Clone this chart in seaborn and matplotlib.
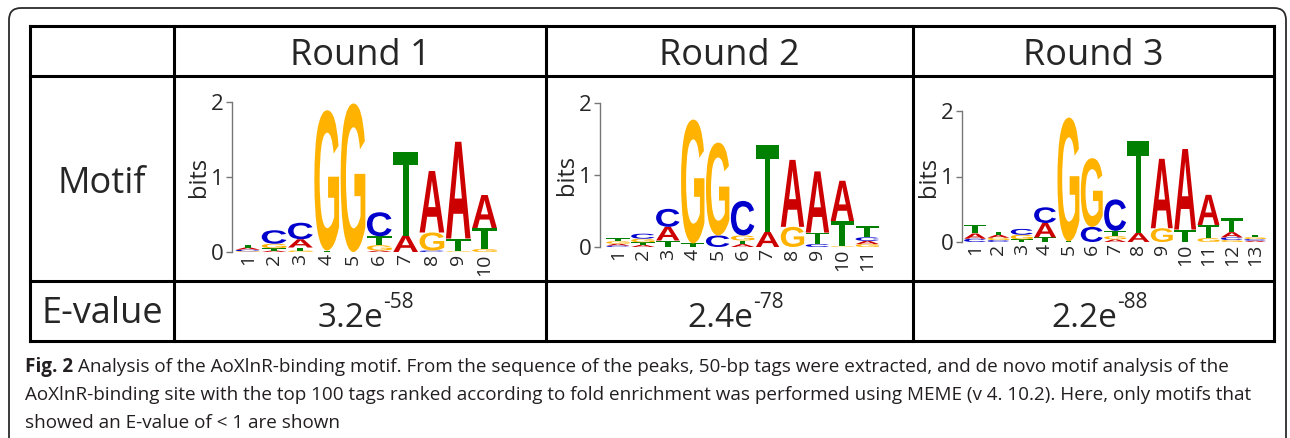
import numpy as np
import pandas as pd
import seaborn as sns
import matplotlib.pyplot as plt
import matplotlib.transforms as mtransforms
from matplotlib.textpath import TextPath
from matplotlib.patches import PathPatch, FancyBboxPatch
from matplotlib.font_manager import FontProperties

sns.set_style('white')
plt.rcParams['font.family'] = ['Open Sans', 'DejaVu Sans']

# table text
rounds = ['Round 1', 'Round 2', 'Round 3']
e_mantissa = ['3.2e', '2.4e', '2.2e']
e_exponent = ['-58', '-78', '-88']

# letter heights (bits) per motif position
r1_A = [0.03, 0.02, 0.11, 0.00, 0.00, 0.02, 0.22, 0.82, 1.29, 0.44]
r1_C = [0.02, 0.18, 0.22, 0.00, 0.00, 0.32, 0.00, 0.02, 0.00, 0.00]
r1_G = [0.01, 0.06, 0.02, 1.87, 1.98, 0.07, 0.00, 0.24, 0.01, 0.04]
r1_T = [0.04, 0.03, 0.04, 0.02, 0.00, 0.12, 1.12, 0.00, 0.17, 0.28]

r2_A = [0.025, 0.03, 0.19, 0.00, 0.00, 0.04, 0.21, 0.93, 0.85, 0.56, 0.045]
r2_C = [0.02, 0.07, 0.25, 0.00, 0.16, 0.48, 0.00, 0.00, 0.04, 0.00, 0.05]
r2_G = [0.035, 0.05, 0.00, 1.72, 1.29, 0.07, 0.00, 0.28, 0.00, 0.01, 0.04]
r2_T = [0.04, 0.035, 0.09, 0.05, 0.00, 0.05, 1.20, 0.00, 0.16, 0.35, 0.16]

r3_A = [0.08, 0.045, 0.00, 0.22, 0.00, 0.00, 0.04, 0.14, 1.06, 1.23, 0.46, 0.08, 0.02]
r3_C = [0.05, 0.03, 0.09, 0.24, 0.00, 0.23, 0.48, 0.00, 0.00, 0.00, 0.00, 0.04, 0.025]
r3_G = [0.00, 0.035, 0.07, 0.00, 1.89, 1.05, 0.05, 0.00, 0.21, 0.00, 0.06, 0.03, 0.03]
r3_T = [0.13, 0.05, 0.04, 0.07, 0.01, 0.00, 0.08, 1.40, 0.00, 0.19, 0.20, 0.21, 0.035]

caption_bold = 'Fig. 2'
caption_lines = [
    'Analysis of the AoXlnR-binding motif. From the sequence of the peaks, 50-bp tags were extracted, and de novo motif analysis of the',
    'AoXlnR-binding site with the top 100 tags ranked according to fold enrichment was performed using MEME (v 4. 10.2). Here, only motifs that',
    'showed an E-value of < 1 are shown',
]

colors = {'A': '#CC0000', 'C': '#0000CC', 'G': '#FFB300', 'T': '#008000'}
logo_font = FontProperties(family='Liberation Sans', weight='bold')

motifs = [
    pd.DataFrame({'A': r1_A, 'C': r1_C, 'G': r1_G, 'T': r1_T}),
    pd.DataFrame({'A': r2_A, 'C': r2_C, 'G': r2_G, 'T': r2_T}),
    pd.DataFrame({'A': r3_A, 'C': r3_C, 'G': r3_G, 'T': r3_T}),
]

W, H = 1290, 438
fig = plt.figure(figsize=(W / 100, H / 100), dpi=100)
renderer = fig.canvas.get_renderer()

# overlay axes in pixel coordinates for the table frame and texts
frame = fig.add_axes([0, 0, 1, 1])
frame.set_xlim(0, W)
frame.set_ylim(H, 0)
frame.axis('off')

frame.add_patch(FancyBboxPatch((9, 8), 1277, 520, boxstyle='round,pad=0,rounding_size=12',
                               fc='none', ec='#2b2b2b', lw=1.3, clip_on=False))

col_x = [30, 174, 546, 913, 1274]
row_y = [26, 76, 281, 341]
for y in row_y:
    frame.plot([col_x[0], col_x[-1]], [y, y], color='black', lw=2.2, solid_capstyle='projecting')
for x in col_x:
    frame.plot([x, x], [row_y[0], row_y[-1]], color='black', lw=2.2, solid_capstyle='projecting')

cell_font = 26
frame.text((col_x[0] + col_x[1]) / 2, 184, 'Motif', ha='center', va='center', fontsize=cell_font)
frame.text((col_x[0] + col_x[1]) / 2, 314, 'E-value', ha='center', va='center', fontsize=cell_font)
for i, name in enumerate(rounds):
    cx = (col_x[i + 1] + col_x[i + 2]) / 2
    frame.text(cx, 56, name, ha='center', va='center', fontsize=cell_font)
    # mantissa + superscript exponent, centred together
    t1 = frame.text(0, 327, e_mantissa[i], ha='left', va='baseline', fontsize=24)
    t2 = frame.text(0, 308, e_exponent[i], ha='left', va='baseline', fontsize=15)
    w1 = t1.get_window_extent(renderer).width
    w2 = t2.get_window_extent(renderer).width
    start = cx - (w1 + w2) / 2 + 6
    t1.set_x(start)
    t2.set_x(start + w1)

# caption
cap_size = 13.6
cap_y = [367, 395, 423]
tb = frame.text(25, cap_y[0], caption_bold, ha='left', va='center', fontsize=cap_size,
                fontweight='bold', color='#231f20')
bb = tb.get_window_extent(renderer)
frame.text(bb.x1 + 5, cap_y[0], caption_lines[0], ha='left', va='center', fontsize=cap_size, color='#231f20')
for y, line in zip(cap_y[1:], caption_lines[1:]):
    frame.text(25, y, line, ha='left', va='center', fontsize=cap_size, color='#231f20')

# logo axes: pixel boxes (left, top, right, bottom) and x-limits
logo_boxes = [(232, 102, 499, 252), (600, 103, 881, 247), (962, 111, 1268, 242)]
logo_xlims = [(0.4, 10.55), (0.28, 11.55), (0.44, 13.55)]


def draw_letter(ax, letter, x, y, w, h):
    tp = TextPath((0, 0), letter, size=1, prop=logo_font)
    ext = tp.get_extents()
    tr = (mtransforms.Affine2D()
          .translate(-ext.x0, -ext.y0)
          .scale(w / ext.width, h / ext.height)
          .translate(x - w / 2, y))
    ax.add_patch(PathPatch(tr.transform_path(tp), fc=colors[letter], ec='none', clip_on=False))


for motif, (x0, y0, x1, y1), xlim in zip(motifs, logo_boxes, logo_xlims):
    ax = fig.add_axes([x0 / W, 1 - y1 / H, (x1 - x0) / W, (y1 - y0) / H])
    ax.patch.set_alpha(0)
    for pos, row in motif.iterrows():
        base = 0.0
        for letter, h in row.sort_values().items():
            if h <= 0:
                continue
            draw_letter(ax, letter, pos + 1, base, 0.94, h)
            base += h
    ax.set_xlim(*xlim)
    ax.set_ylim(0, 2)
    ax.set_yticks([0, 1, 2])
    ax.set_xticks(np.arange(1, len(motif) + 1))
    ax.set_xticklabels([str(i) for i in range(1, len(motif) + 1)], rotation=90, fontsize=14)
    ax.tick_params(axis='x', length=0, pad=1)
    ax.tick_params(axis='y', length=4, width=1, color='#777777', labelsize=16, pad=2, left=True)
    ax.set_ylabel('bits', fontsize=17, labelpad=0)
    sns.despine(ax=ax, top=True, right=True, bottom=True)
    ax.spines['left'].set_color('#777777')
    ax.spines['left'].set_linewidth(1)
    ax.grid(False)

fig.savefig('out.png', dpi=100)
